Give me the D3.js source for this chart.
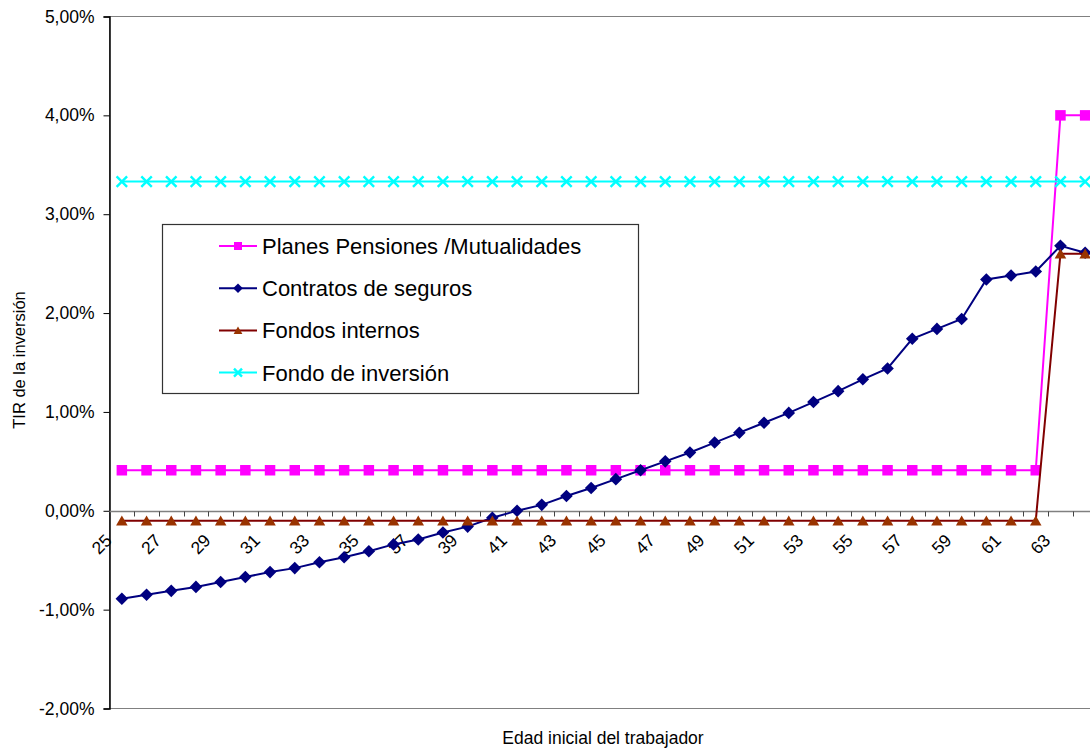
<!DOCTYPE html>
<html>
<head>
<meta charset="utf-8">
<script src="https://cdn.jsdelivr.net/npm/d3@7"></script>
<style>
  html, body { margin: 0; padding: 0; background: #fff; }
  svg { display: block; font-family: "Liberation Sans", Arial, sans-serif; }
</style>
</head>
<body>
<svg id="chart" width="1090" height="749"></svg>
<script>
// Edad inicial del trabajador (25 a 64)
const ages = [25,26,27,28,29,30,31,32,33,34,35,36,37,38,39,40,41,42,43,44,
              45,46,47,48,49,50,51,52,53,54,55,56,57,58,59,60,61,62,63,64];

// TIR de cada producto, en %
const planesPensiones = [0.41,0.41,0.41,0.41,0.41,0.41,0.41,0.41,0.41,0.41,
                         0.41,0.41,0.41,0.41,0.41,0.41,0.41,0.41,0.41,0.41,
                         0.41,0.41,0.41,0.41,0.41,0.41,0.41,0.41,0.41,0.41,
                         0.41,0.41,0.41,0.41,0.41,0.41,0.41,0.41,4.00,4.00];
const contratosSeguros = [-0.89,-0.85,-0.81,-0.77,-0.72,-0.67,-0.62,-0.58,-0.52,-0.47,
                          -0.41,-0.34,-0.29,-0.22,-0.16,-0.07,0.00,0.06,0.15,0.23,
                          0.32,0.41,0.50,0.59,0.69,0.79,0.89,0.99,1.10,1.21,
                          1.33,1.44,1.74,1.84,1.94,2.34,2.38,2.42,2.68,2.61];
const fondosInternos = [-0.10,-0.10,-0.10,-0.10,-0.10,-0.10,-0.10,-0.10,-0.10,-0.10,
                        -0.10,-0.10,-0.10,-0.10,-0.10,-0.10,-0.10,-0.10,-0.10,-0.10,
                        -0.10,-0.10,-0.10,-0.10,-0.10,-0.10,-0.10,-0.10,-0.10,-0.10,
                        -0.10,-0.10,-0.10,-0.10,-0.10,-0.10,-0.10,-0.10,2.60,2.60];
const fondoInversion = [3.33,3.33,3.33,3.33,3.33,3.33,3.33,3.33,3.33,3.33,
                        3.33,3.33,3.33,3.33,3.33,3.33,3.33,3.33,3.33,3.33,
                        3.33,3.33,3.33,3.33,3.33,3.33,3.33,3.33,3.33,3.33,
                        3.33,3.33,3.33,3.33,3.33,3.33,3.33,3.33,3.33,3.33];

const yTicks = [-2, -1, 0, 1, 2, 3, 4, 5];
const xLabels = [25,27,29,31,33,35,37,39,41,43,45,47,49,51,53,55,57,59,61,63];

const seriesNames = ["Planes Pensiones /Mutualidades", "Contratos de seguros",
                     "Fondos internos", "Fondo de inversión"];

const series = [
  { name: seriesNames[0], values: planesPensiones, line: "#FF00FF", fill: "#FF00FF", marker: "square" },
  { name: seriesNames[1], values: contratosSeguros, line: "#000080", fill: "#000080", marker: "diamond" },
  { name: seriesNames[2], values: fondosInternos, line: "#800000", fill: "#993300", marker: "triangle" },
  { name: seriesNames[3], values: fondoInversion, line: "#00FFFF", fill: "#00FFFF", marker: "cross" }
];

const svg = d3.select("#chart");
const fmt = d3.formatLocale({ decimal: ",", thousands: ".", grouping: [3], currency: ["", "€"], minus: "-" });
const pct = v => fmt.format(".2f")(v) + "%";

// Plot area (the category axis runs past the right edge of the page)
const plotLeft = 109.5, plotTop = 16.5, plotBottom = 708.5;
const x = d3.scaleBand().domain(ages).range([plotLeft, plotLeft + 24.7 * ages.length]);
const y = d3.scaleLinear().domain([-2, 5]).range([plotBottom, plotTop]);
const cx = a => x(a) + x.bandwidth() / 2;

// Plot area border (top and bottom visible)
svg.append("rect")
  .attr("x", plotLeft).attr("y", plotTop)
  .attr("width", x.range()[1] - plotLeft).attr("height", plotBottom - plotTop)
  .attr("fill", "none").attr("stroke", "#808080").attr("stroke-width", 1);

// Y axis
const yAxis = svg.append("g")
  .attr("transform", `translate(${plotLeft},0)`)
  .call(d3.axisLeft(y).tickValues(yTicks).tickSize(6).tickPadding(9).tickFormat(pct));
yAxis.select(".domain").attr("stroke", "#000").attr("stroke-width", 1.5);
yAxis.selectAll(".tick line").attr("stroke", "#000");
yAxis.selectAll(".tick text")
  .attr("font-family", "Liberation Sans, Arial, sans-serif")
  .attr("font-size", "17.5px").attr("fill", "#000");

// X axis at 0%
const y0 = Math.round(y(0)) + 0.5;
const xg = svg.append("g");
xg.append("line")
  .attr("x1", plotLeft).attr("x2", x.range()[1])
  .attr("y1", y0).attr("y2", y0)
  .attr("stroke", "#808080").attr("stroke-width", 1.5);
xg.selectAll("line.tick").data(ages).enter().append("line")
  .attr("class", "tick")
  .attr("x1", d => Math.round(x(d) + x.bandwidth()) + 0.5)
  .attr("x2", d => Math.round(x(d) + x.bandwidth()) + 0.5)
  .attr("y1", y0).attr("y2", y0 + 5)
  .attr("stroke", "#444").attr("stroke-width", 1);
xg.selectAll("text").data(xLabels).enter().append("text")
  .attr("transform", d => `translate(${cx(d) - 9},${y0 + 30}) rotate(-45)`)
  .attr("text-anchor", "end")
  .attr("font-size", "17.5px").attr("fill", "#000")
  .text(d => d);

// Axis titles
svg.append("text")
  .attr("x", 603).attr("y", 744)
  .attr("text-anchor", "middle").attr("font-size", "17.5px")
  .text("Edad inicial del trabajador");
svg.append("text")
  .attr("transform", "translate(25,360) rotate(-90)")
  .attr("text-anchor", "middle").attr("font-size", "16.5px")
  .text("TIR de la inversión");

// Marker shapes
function markerPath(type, s) {
  const h = s / 2;
  switch (type) {
    case "square": return `M${-h},${-h}H${h}V${h}H${-h}Z`;
    case "diamond": return `M0,${-h * 1.2}L${h * 1.2},0L0,${h * 1.2}L${-h * 1.2},0Z`;
    case "triangle": return `M0,${-h}L${h * 1.1},${h * 0.9}L${-h * 1.1},${h * 0.9}Z`;
    case "cross": return `M${-h},${-h}L${h},${h}M${h},${-h}L${-h},${h}`;
  }
}
function drawMarker(g, s, type, size) {
  const p = g.append("path").attr("d", markerPath(type, size));
  if (type === "cross") p.attr("fill", "none").attr("stroke", s.fill).attr("stroke-width", 2.4);
  else p.attr("fill", s.fill).attr("stroke", "none");
  return p;
}

// Series lines and markers
const line = d3.line().x(d => cx(d.a)).y(d => y(d.v));
series.forEach(s => {
  const pts = ages.map((a, i) => ({ a, v: s.values[i] }));
  const g = svg.append("g");
  g.append("path").datum(pts).attr("d", line)
    .attr("fill", "none").attr("stroke", s.line).attr("stroke-width", 2);
  pts.forEach(p => {
    const m = g.append("g").attr("transform", `translate(${cx(p.a)},${y(p.v)})`);
    drawMarker(m, s, s.marker, s.marker === "cross" ? 10.5 : 10.5);
  });
});

// Legend
const lg = svg.append("g");
lg.append("rect")
  .attr("x", 162.5).attr("y", 224.5).attr("width", 476).attr("height", 169)
  .attr("fill", "#fff").attr("stroke", "#333").attr("stroke-width", 1.2);
series.forEach((s, i) => {
  const base = 254 + i * 42.2;
  const my = base - 8;
  lg.append("line").attr("x1", 219).attr("x2", 257).attr("y1", my).attr("y2", my)
    .attr("stroke", s.line).attr("stroke-width", 2);
  const m = lg.append("g").attr("transform", `translate(238,${my})`);
  drawMarker(m, s, s.marker, s.marker === "cross" ? 8 : 8);
  lg.append("text").attr("x", 262).attr("y", base)
    .attr("font-size", "22px").attr("fill", "#000").text(s.name);
});
</script>
</body>
</html>
